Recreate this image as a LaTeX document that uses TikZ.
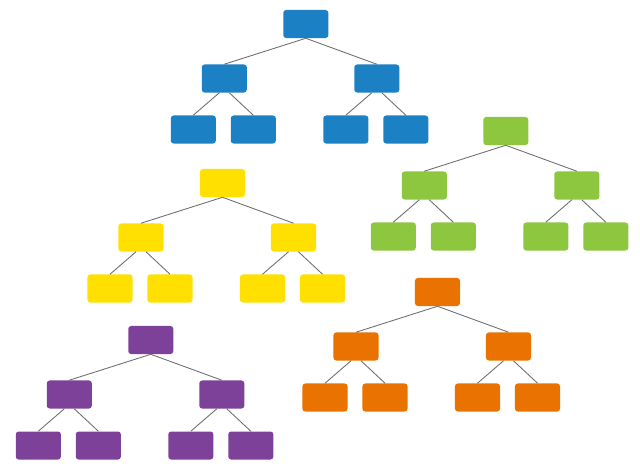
\documentclass[tikz,border=0pt]{standalone}
\usetikzlibrary{positioning}
\definecolor{treeblue}{HTML}{1B80C4}
\definecolor{treegreen}{HTML}{8DC63F}
\definecolor{treeyellow}{HTML}{FFE000}
\definecolor{treeorange}{HTML}{EA7200}
\definecolor{treepurple}{HTML}{7D4199}
\definecolor{linkgray}{HTML}{6A6A6A}
\begin{document}
\begin{tikzpicture}[x=0.025cm,y=-0.025cm,
    box/.style={rounded corners=2pt, minimum width=1.125cm, minimum height=0.7cm, inner sep=0pt},
    link/.style={draw=linkgray, line width=0.6pt}]
    \useasboundingbox (0,0) rectangle (640,474);

    % Tree parameters
    \def\dx{0.125cm} % offset of the lower links at a parent

    % One tree per colour: name / colour / root position
    \foreach \t/\c/\x/\y in {b/treeblue/305.8/24, g/treegreen/505.8/131,
        y/treeyellow/222.5/183, o/treeorange/437.5/292, p/treepurple/150.8/340}{
      \begin{scope}[shift={(\x,\y)}]
        % Boxes
        \node[box, fill=\c] (\t0) at (0,0) {};
        \node[box, fill=\c] (\t1) at (-81.5,54.5) {};
        \node[box, fill=\c] (\t2) at (71,54.5) {};
        \node[box, fill=\c] (\t11) at (-112.5,105.5) {};
        \node[box, fill=\c] (\t12) at (-52.5,105.5) {};
        \node[box, fill=\c] (\t21) at (40,105.5) {};
        \node[box, fill=\c] (\t22) at (100,105.5) {};

        % Links
        \draw[link] (\t0.south) -- (\t1.north);
        \draw[link] (\t0.south) -- (\t2.north);
        \draw[link] ([xshift=-\dx]\t1.south) -- (\t11.north);
        \draw[link] ([xshift=\dx]\t1.south) -- (\t12.north);
        \draw[link] ([xshift=-\dx]\t2.south) -- (\t21.north);
        \draw[link] ([xshift=\dx]\t2.south) -- (\t22.north);
      \end{scope}
    }
\end{tikzpicture}
\end{document}
